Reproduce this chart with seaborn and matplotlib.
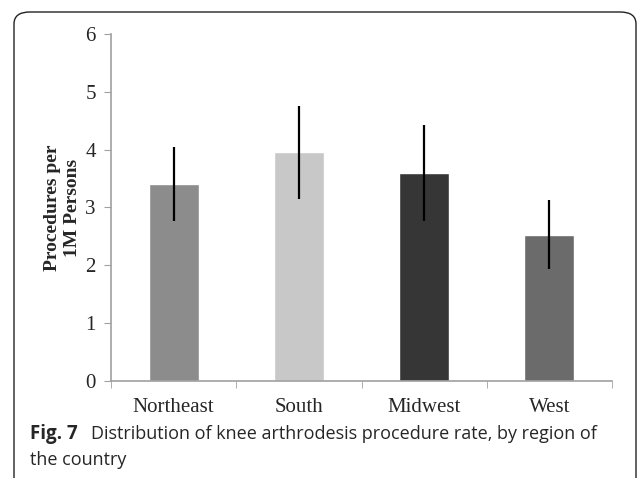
import matplotlib
matplotlib.use("Agg")
import matplotlib.pyplot as plt
import seaborn as sns
from matplotlib.patches import FancyBboxPatch

regions = ["Northeast", "South", "Midwest", "West"]
rates = [3.41, 3.96, 3.59, 2.53]
err_low = [0.65, 0.81, 0.83, 0.59]
err_high = [0.64, 0.80, 0.84, 0.60]
bar_colors = ["#8c8c8c", "#c8c8c8", "#363636", "#6b6b6b"]
yticks = [0, 1, 2, 3, 4, 5, 6]

sns.set_style("white")
plt.rcParams['font.family'] = ['Liberation Serif', 'DejaVu Serif']

fig = plt.figure(figsize=(6.37, 4.78), dpi=100)
ax = fig.add_axes([0.1743, 0.2029, 0.7865, 0.726])

sns.barplot(x=regions, y=rates, hue=regions, palette=bar_colors,
            width=0.4, legend=False, ax=ax, saturation=1)
ax.errorbar(x=range(len(regions)), y=rates, yerr=[err_low, err_high],
            fmt="none", ecolor="black", elinewidth=1.6, capsize=0)

ax.set_xlim(-0.5, 3.5)
ax.set_ylim(0, 6)
ax.set_yticks(yticks)
ax.set_yticklabels([str(t) for t in yticks], fontsize=15)
ax.set_xticks(range(len(regions)))
ax.set_xticklabels(regions, fontsize=15)
ax.set_xticks([-0.5, 0.5, 1.5, 2.5, 3.5], minor=True)
ax.tick_params(axis="x", which="major", length=0, pad=12)
ax.tick_params(axis="x", which="minor", length=5, color="#a0a0a0",
               direction="out", bottom=True)
ax.tick_params(axis="y", length=5, color="#a0a0a0", direction="out",
               left=True, pad=6)

for s in ["top", "right"]:
    ax.spines[s].set_visible(False)
for s in ["left", "bottom"]:
    ax.spines[s].set_color("#a0a0a0")
    ax.spines[s].set_linewidth(1.2)

ax.set_ylabel("Procedures per\n1M Persons", fontsize=14, fontweight="bold",
              labelpad=3, linespacing=1.2)

# caption
fig.text(30 / 637, 1 - 434 / 478, "Fig. 7", fontsize=13.5, fontweight="bold",
         family="Open Sans", va="center", ha="left")
fig.text(91 / 637, 1 - 434 / 478,
         "Distribution of knee arthrodesis procedure rate, by region of",
         fontsize=13, family="Open Sans", va="center", ha="left")
fig.text(30 / 637, 1 - 460 / 478, "the country", fontsize=13,
         family="Open Sans", va="center", ha="left")

# rounded frame
frame = FancyBboxPatch((14 / 637, -0.1), (636 - 14) / 637, 0.1 + 1 - 12 / 478,
                       boxstyle="round,pad=0,rounding_size=0.025",
                       transform=fig.transFigure, fill=False,
                       edgecolor="#222222", linewidth=1.0, clip_on=False)
fig.patches.append(frame)

fig.savefig("out.png", dpi=100)
